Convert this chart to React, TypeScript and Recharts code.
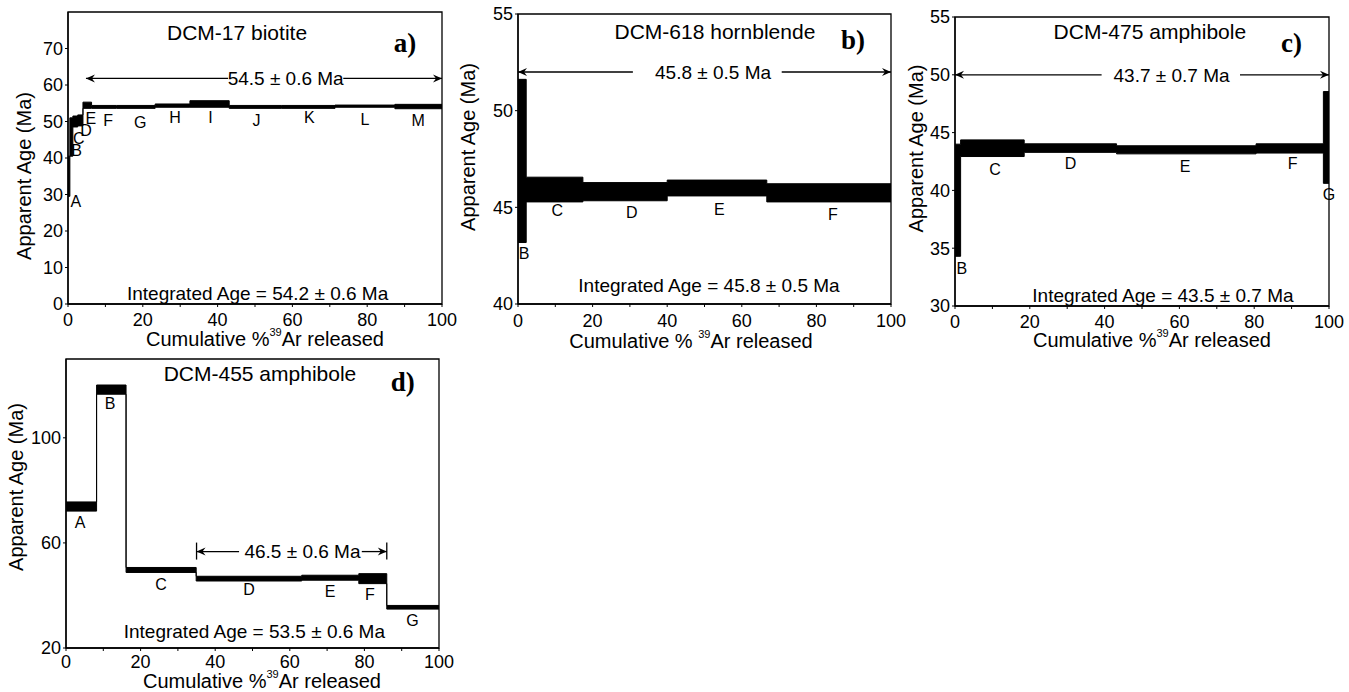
import React from 'react';
import { ComposedChart, Area, XAxis, YAxis, ReferenceLine, ReferenceDot, ReferenceArea } from 'recharts';

const FONT = '"Liberation Sans", Arial, sans-serif';
const SERIF = '"Liberation Serif", "Times New Roman", serif';

type Step = { step: string; from: number; to: number; age: number; err: number };

// heating steps: cumulative % 39Ar released (from -> to), apparent age and error (Ma)
const stepsA: Step[] = [
  { step: 'A', from: 0, to: 0.5, age: 35.0, err: 5.5 },
  { step: 'B', from: 0.5, to: 1.3, age: 45.75, err: 5.25 },
  { step: 'C', from: 1.3, to: 2.6, age: 50.0, err: 1.5 },
  { step: 'D', from: 2.6, to: 4.0, age: 50.3, err: 1.5 },
  { step: 'E', from: 4.0, to: 6.3, age: 54.45, err: 0.85 },
  { step: 'F', from: 6.3, to: 13, age: 54.0, err: 0.4 },
  { step: 'G', from: 13, to: 23.3, age: 54.0, err: 0.4 },
  { step: 'H', from: 23.3, to: 32.6, age: 54.35, err: 0.45 },
  { step: 'I', from: 32.6, to: 43.1, age: 54.8, err: 0.9 },
  { step: 'J', from: 43.1, to: 57, age: 54.0, err: 0.4 },
  { step: 'K', from: 57, to: 71.4, age: 54.0, err: 0.4 },
  { step: 'L', from: 71.4, to: 87.4, age: 54.2, err: 0.3 },
  { step: 'M', from: 87.4, to: 100, age: 54.1, err: 0.6 },
];

const stepsB: Step[] = [
  { step: 'B', from: 0, to: 2.2, age: 47.4, err: 4.22 },
  { step: 'C', from: 2.2, to: 17.4, age: 45.92, err: 0.64 },
  { step: 'D', from: 17.4, to: 40, age: 45.81, err: 0.47 },
  { step: 'E', from: 40, to: 66.7, age: 46.0, err: 0.41 },
  { step: 'F', from: 66.7, to: 100, age: 45.75, err: 0.47 },
];

const stepsC: Step[] = [
  { step: 'B', from: 0, to: 1.5, age: 39.15, err: 4.85 },
  { step: 'C', from: 1.5, to: 18.5, age: 43.65, err: 0.72 },
  { step: 'D', from: 18.5, to: 43.2, age: 43.66, err: 0.37 },
  { step: 'E', from: 43.2, to: 80.5, age: 43.51, err: 0.35 },
  { step: 'F', from: 80.5, to: 98.5, age: 43.63, err: 0.4 },
  { step: 'G', from: 98.5, to: 100, age: 44.58, err: 3.97 },
];

const stepsD: Step[] = [
  { step: 'A', from: 0, to: 8.2, age: 73.85, err: 1.75 },
  { step: 'B', from: 8.2, to: 16.1, age: 118.35, err: 1.75 },
  { step: 'C', from: 16.1, to: 34.9, age: 49.7, err: 0.95 },
  { step: 'D', from: 34.9, to: 63.2, age: 46.4, err: 0.9 },
  { step: 'E', from: 63.2, to: 78.5, age: 46.75, err: 0.95 },
  { step: 'F', from: 78.5, to: 86, age: 46.4, err: 1.9 },
  { step: 'G', from: 86, to: 100, age: 35.5, err: 0.7 },
];

const xTicks = [0, 10, 20, 30, 40, 50, 60, 70, 80, 90, 100];
const yTicksA = [0, 10, 20, 30, 40, 50, 60, 70];
const yTicksB = [40, 45, 50, 55];
const yTicksC = [30, 35, 40, 45, 50, 55];
const yTicksD = [20, 60, 100];

// step letters, anchored in data units [letter, %39Ar, age]
const lettersA: [string, number, number][] = [
  ['A', 2.1, 28], ['B', 2.3, 42], ['C', 2.9, 45.4], ['D', 4.8, 47.6], ['E', 6.1, 51],
  ['F', 10.7, 50.4], ['G', 19.3, 49.9], ['H', 28.6, 51.2], ['I', 38.1, 51.2],
  ['J', 50.4, 50.4], ['K', 64.5, 51.2], ['L', 79.4, 50.7], ['M', 93.6, 50.4],
];
const lettersB: [string, number, number][] = [
  ['B', 1.6, 42.6], ['C', 10.5, 44.83], ['D', 30.5, 44.76], ['E', 54.0, 44.91], ['F', 84.4, 44.66],
];
const lettersC: [string, number, number][] = [
  ['B', 1.8, 33.3], ['C', 10.7, 41.8], ['D', 30.9, 42.3], ['E', 61.5, 42.1], ['F', 90.3, 42.3], ['G', 100, 39.7],
];
const lettersD: [string, number, number][] = [
  ['A', 3.75, 68], ['B', 11.8, 113.1], ['C', 25.5, 44.1], ['D', 49.1, 42.2],
  ['E', 70.8, 41.6], ['F', 81.5, 40.3], ['G', 92.9, 30.5],
];

// plateau ages: text, age level of arrow, span, and gap left for the text
const plateauA = { text: '54.5 ± 0.6 Ma', y: 61.8, from: 4.8, to: 100, gapL: 42.8, gapR: 73.6, tx: 58.2, bars: false };
const plateauB = { text: '45.8 ± 0.5 Ma', y: 52.0, from: 0, to: 100, gapL: 30.8, gapR: 70.7, tx: 52.3, bars: false };
const plateauC = { text: '43.7 ± 0.7 Ma', y: 50.0, from: 0, to: 100, gapL: 39.2, gapR: 76.2, tx: 57.9, bars: false };
const plateauD = { text: '46.5 ± 0.6 Ma', y: 56.7, from: 35, to: 86, gapL: 46.4, gapR: 79.3, tx: 63.4, bars: true };

const integratedA = ['Integrated Age = 54.2 ± 0.6 Ma', 50.7, 3.0] as const;
const integratedB = ['Integrated Age = 45.8 ± 0.5 Ma', 51.2, 40.95] as const;
const integratedC = ['Integrated Age = 43.5 ± 0.7 Ma', 55.6, 30.9] as const;
const integratedD = ['Integrated Age = 53.5 ± 0.6 Ma', 50.5, 26.2] as const;

const arrowShape = (head: 'start' | 'end', bar: boolean) => (p: any) => {
  const { x1, y1, x2, y2 } = p;
  const tx = head === 'start' ? x1 : x2;
  const ty = head === 'start' ? y1 : y2;
  const d = head === 'start' ? 1 : -1;
  return (
    <g>
      <line x1={x1} y1={y1} x2={x2} y2={y2} stroke="#000" strokeWidth={1.3} />
      <polygon points={`${tx},${ty} ${tx + d * 9},${ty - 4} ${tx + d * 6},${ty} ${tx + d * 9},${ty + 4}`} fill="#000" />
      {bar && <line x1={tx} y1={ty - 9} x2={tx} y2={ty + 8} stroke="#000" strokeWidth={1.3} />}
    </g>
  );
};

type Cfg = {
  steps: Step[];
  yDomain: [number, number];
  yTicks: number[];
  box: { ox: number; oy: number; w: number; h: number; l: number; t: number; r: number; b: number };
  yLab: [number, number];
  xLab: [number, number];
  xPre: string;
  tickGap: number;
  title: [string, number, number];
  tag: [string, number, number];
  plateau: typeof plateauA;
  integrated: readonly [string, number, number];
  letters: [string, number, number][];
};

function Panel({ cfg }: { cfg: Cfg }) {
  const { box } = cfg;
  const last = cfg.steps[cfg.steps.length - 1];
  const data = [
    ...cfg.steps.map((s) => ({ x: s.from, band: [s.age - s.err, s.age + s.err] })),
    { x: last.to, band: [last.age - last.err, last.age + last.err] },
  ];
  const margin = { top: box.t - box.oy, right: box.ox + box.w - box.r, left: 0, bottom: 0 };
  const pl = cfg.plateau;

  const xLabel = () => (
    <text x={cfg.xLab[0] - box.ox} y={cfg.xLab[1] - box.oy} textAnchor="middle" dominantBaseline="central" fontSize={20} fill="#000">
      {cfg.xPre}
      <tspan fontSize={11} dy={-7}>39</tspan>
      <tspan fontSize={20} dy={7}>Ar released</tspan>
    </text>
  );
  const yLabel = () => {
    const x = cfg.yLab[0] - box.ox;
    const y = cfg.yLab[1] - box.oy;
    return (
      <text x={x} y={y} transform={`rotate(-90, ${x}, ${y})`} textAnchor="middle" dominantBaseline="central" fontSize={20} fill="#000">
        Apparent Age (Ma)
      </text>
    );
  };

  return (
    <div style={{ position: 'absolute', left: box.ox, top: box.oy, width: box.w, height: box.h, fontFamily: FONT }}>
      <ComposedChart width={box.w} height={box.h} margin={margin} data={data}>
        <XAxis
          type="number"
          dataKey="x"
          domain={[0, 100]}
          ticks={xTicks}
          tickFormatter={(v: number) => (v % 20 === 0 ? String(v) : '')}
          height={box.oy + box.h - box.b}
          tickSize={3}
          tickMargin={cfg.tickGap}
          axisLine={{ stroke: '#000', strokeWidth: 1.3 }}
          tickLine={{ stroke: '#000' }}
          tick={{ fill: '#000', fontSize: 18 }}
          interval={0}
          label={xLabel}
        />
        <YAxis
          type="number"
          domain={cfg.yDomain}
          ticks={cfg.yTicks}
          width={box.l - box.ox}
          tickSize={3}
          tickMargin={2}
          axisLine={{ stroke: '#000', strokeWidth: 1.3 }}
          tickLine={{ stroke: '#000' }}
          tick={{ fill: '#000', fontSize: 18 }}
          interval={0}
          allowDataOverflow
          label={yLabel}
        />
        <ReferenceArea x1={0} x2={100} y1={cfg.yDomain[0]} y2={cfg.yDomain[1]} fill="none" stroke="#000" strokeWidth={1.3} ifOverflow="visible" />
        <Area
          type="stepAfter"
          dataKey="band"
          fill="#000"
          fillOpacity={1}
          stroke="#000"
          strokeWidth={1}
          dot={false}
          activeDot={false}
          isAnimationActive={false}
        />
        <ReferenceLine segment={[{ x: pl.from, y: pl.y }, { x: pl.gapL, y: pl.y }]} shape={arrowShape('start', pl.bars)} ifOverflow="visible" />
        <ReferenceLine segment={[{ x: pl.gapR, y: pl.y }, { x: pl.to, y: pl.y }]} shape={arrowShape('end', pl.bars)} ifOverflow="visible" />
        <ReferenceDot x={pl.tx} y={pl.y} r={0} fill="none" stroke="none" ifOverflow="visible"
          label={{ value: pl.text, position: 'center', fontSize: 19, fill: '#000' }} />
        <ReferenceDot x={cfg.integrated[1]} y={cfg.integrated[2]} r={0} fill="none" stroke="none" ifOverflow="visible"
          label={{ value: cfg.integrated[0], position: 'center', fontSize: 19, fill: '#000' }} />
        <ReferenceDot x={cfg.title[1]} y={cfg.title[2]} r={0} fill="none" stroke="none" ifOverflow="visible"
          label={{ value: cfg.title[0], position: 'center', fontSize: 21, fill: '#000' }} />
        <ReferenceDot x={cfg.tag[1]} y={cfg.tag[2]} r={0} fill="none" stroke="none" ifOverflow="visible"
          label={{ value: cfg.tag[0], position: 'center', fontSize: 27, fontWeight: 'bold', fontFamily: SERIF, fill: '#000' }} />
        {cfg.letters.map(([t, x, y]) => (
          <ReferenceDot key={t} x={x} y={y} r={0} fill="none" stroke="none" ifOverflow="visible"
            label={{ value: t, position: 'center', fontSize: 16, fill: '#000' }} />
        ))}
      </ComposedChart>
    </div>
  );
}

const cfgA: Cfg = {
  steps: stepsA, yDomain: [0, 80], yTicks: yTicksA,
  box: { ox: 0, oy: 0, w: 460, h: 358, l: 68, t: 12, r: 442, b: 304 },
  yLab: [24, 176], xLab: [265, 339], xPre: 'Cumulative %', tickGap: 6,
  title: ['DCM-17 biotite', 45.2, 74.5], tag: ['a)', 90.1, 71.8],
  plateau: plateauA, integrated: integratedA, letters: lettersA,
};
const cfgB: Cfg = {
  steps: stepsB, yDomain: [40, 55], yTicks: yTicksB,
  box: { ox: 450, oy: 0, w: 460, h: 358, l: 518, t: 14, r: 891, b: 304 },
  yLab: [467.5, 147], xLab: [691, 341], xPre: 'Cumulative % ', tickGap: 7,
  title: ['DCM-618 hornblende', 52.8, 54.1], tag: ['b)', 89.8, 53.66],
  plateau: plateauB, integrated: integratedB, letters: lettersB,
};
const cfgC: Cfg = {
  steps: stepsC, yDomain: [30, 55], yTicks: yTicksC,
  box: { ox: 887, oy: 0, w: 462, h: 358, l: 955, t: 17, r: 1329, b: 306 },
  yLab: [915.5, 148.5], xLab: [1152, 340], xPre: 'Cumulative  %', tickGap: 6,
  title: ['DCM-475 amphibole', 52.1, 53.7], tag: ['c)', 90, 52.8],
  plateau: plateauC, integrated: integratedC, letters: lettersC,
};
const cfgD: Cfg = {
  steps: stepsD, yDomain: [20, 130], yTicks: yTicksD,
  box: { ox: 0, oy: 345, w: 460, h: 347, l: 66, t: 359, r: 439, b: 648 },
  yLab: [16, 487], xLab: [262, 681], xPre: 'Cumulative  %', tickGap: 4,
  title: ['DCM-455 amphibole', 52, 124.6], tag: ['d)', 90.3, 121.4],
  plateau: plateauD, integrated: integratedD, letters: lettersD,
};

export default function App() {
  return (
    <div style={{ position: 'absolute', left: 0, top: 0, width: 1349, height: 692, background: '#fff', overflow: 'hidden' }}>
      <Panel cfg={cfgA} />
      <Panel cfg={cfgB} />
      <Panel cfg={cfgC} />
      <Panel cfg={cfgD} />
    </div>
  );
}
